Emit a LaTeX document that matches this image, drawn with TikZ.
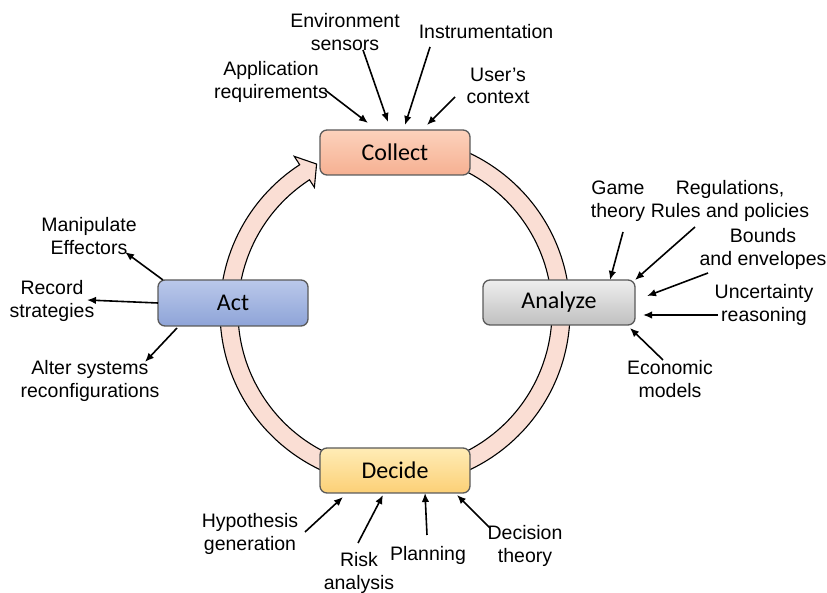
\documentclass[tikz,border=0pt]{standalone}
\usepackage{fontspec}
\setmainfont{Liberation Sans}
\newfontfamily\stagefont{Carlito}
\usetikzlibrary{arrows.meta}

\definecolor{ringpink}{RGB}{250,222,212}
\definecolor{edgegray}{RGB}{90,90,90}
\definecolor{collecttop}{RGB}{252,210,188}
\definecolor{collectbot}{RGB}{246,176,146}
\definecolor{analyzetop}{RGB}{238,238,238}
\definecolor{analyzebot}{RGB}{192,192,192}
\definecolor{acttop}{RGB}{186,200,234}
\definecolor{actbot}{RGB}{142,164,216}
\definecolor{decidetop}{RGB}{255,236,182}
\definecolor{decidebot}{RGB}{252,208,118}

\begin{document}
\begin{tikzpicture}[x=1pt,y=1pt,style=thick]
            \useasboundingbox (0,0) rectangle (827,593);
            \tikzstyle{stage}=[draw=edgegray,line width=1.3pt,rounded corners=7pt,minimum width=150pt,minimum height=45pt,font=\stagefont\fontsize{24}{26}\selectfont]
            \tikzstyle{lbl}=[align=center,inner sep=0pt,font=\fontsize{19.5}{22.5}\selectfont]
            \tikzstyle{arr}=[-{Latex[length=9pt,width=7.5pt]},line width=1.6pt]

            % the ring
            \coordinate (C) at (395,281.5);
            \draw[fill=ringpink,line width=1.1pt,line join=miter]
                ([shift={(95:175)}]C) arc[start angle=95,end angle=-237,radius=175]
                -- ([shift={(123:185)}]C) -- ([shift={(118:167)}]C) -- ([shift={(123:148)}]C)
                -- ([shift={(123:157)}]C) arc[start angle=-237,end angle=95,radius=157] -- cycle;

            % stages
            \node[stage,top color=collecttop,bottom color=collectbot] (collect) at (395,440.5) {Collect};
            \node[stage,top color=analyzetop,bottom color=analyzebot,minimum width=152pt] (analyze) at (559,290.5) {Analyze};
            \node[stage,top color=acttop,bottom color=actbot,minimum height=46pt] (act) at (233,290) {Act};
            \node[stage,top color=decidetop,bottom color=decidebot] (decide) at (395,122.5) {Decide};

            % collect inputs
            \node[lbl] (app) at (271,511) {Application\\requirements};
            \node[lbl] (env) at (345,561) {Environment\\sensors};
            \node[lbl] (instr) at (486,561) {Instrumentation};
            \node[lbl] (user) at (498,507) {User’s\\context};

            \draw[arr] ([shift={(54,-8)}]app.center) -- ([shift={(-27,29.5)}]collect.center);
            \draw[arr] ([shift={(18,-18)}]env.center) -- ([shift={(-7,30.5)}]collect.center);
            \draw[arr] ([shift={(-56,-15)}]instr.center) -- ([shift={(10,27.5)}]collect.center);
            \draw[arr] ([shift={(-43,-11)}]user.center) -- ([shift={(32,27.5)}]collect.center);

            % analyze inputs
            \node[lbl] (game) at (618,392) {Game\\theory};
            \node[lbl] (regul) at (730,392) {Regulations,\\Rules and policies};
            \node[lbl] (bounds) at (763,344) {Bounds\\and envelopes};
            \node[lbl] (uncert) at (764,288) {Uncertainty\\reasoning};
            \node[lbl] (econ) at (670,214) {Economic\\models};

            \draw[arr] ([shift={(5,-31)}]game.center) -- ([shift={(51,22.5)}]analyze.center);
            \draw[arr] ([shift={(-35,-26)}]regul.center) -- ([shift={(76,22.5)}]analyze.center);
            \draw[arr] ([shift={(-55,-24)}]bounds.center) -- ([shift={(88,6.5)}]analyze.center);
            \draw[arr] ([shift={(-46,-10)}]uncert.center) -- ([shift={(84,-12.5)}]analyze.center);
            \draw[arr] ([shift={(-7,19)}]econ.center) -- ([shift={(71,-25.5)}]analyze.center);

            % act outputs
            \node[lbl] (manip) at (89,357) {Manipulate\\Effectors};
            \node[lbl] (record) at (52,292) {Record\\strategies};
            \node[lbl] (alter) at (90,212) {Alter systems\\reconfigurations};

            \draw[arr] ([shift={(-70,23)}]act.center) -- ([shift={(36,-16)}]manip.center);
            \draw[arr] ([shift={(-75,0)}]act.center) -- ([shift={(35,1)}]record.center);
            \draw[arr] ([shift={(-56,-25)}]act.center) -- ([shift={(55,19)}]alter.center);

            % decide inputs
            \node[lbl] (hypo) at (250,59) {Hypothesis\\generation};
            \node[lbl] (risk) at (359,20) {Risk\\analysis};
            \node[lbl] (plan) at (428,38) {Planning};
            \node[lbl] (dtheory) at (525,47) {Decision\\theory};

            \draw[arr] ([shift={(55,2)}]hypo.center) -- ([shift={(-52,-26.5)}]decide.center);
            \draw[arr] ([shift={(-1,30)}]risk.center) -- ([shift={(-12,-24.5)}]decide.center);
            \draw[arr] ([shift={(-1,20)}]plan.center) -- ([shift={(30,-22.5)}]decide.center);
            \draw[arr] ([shift={(-35,18)}]dtheory.center) -- ([shift={(62,-24.5)}]decide.center);
\end{tikzpicture}
\end{document}
